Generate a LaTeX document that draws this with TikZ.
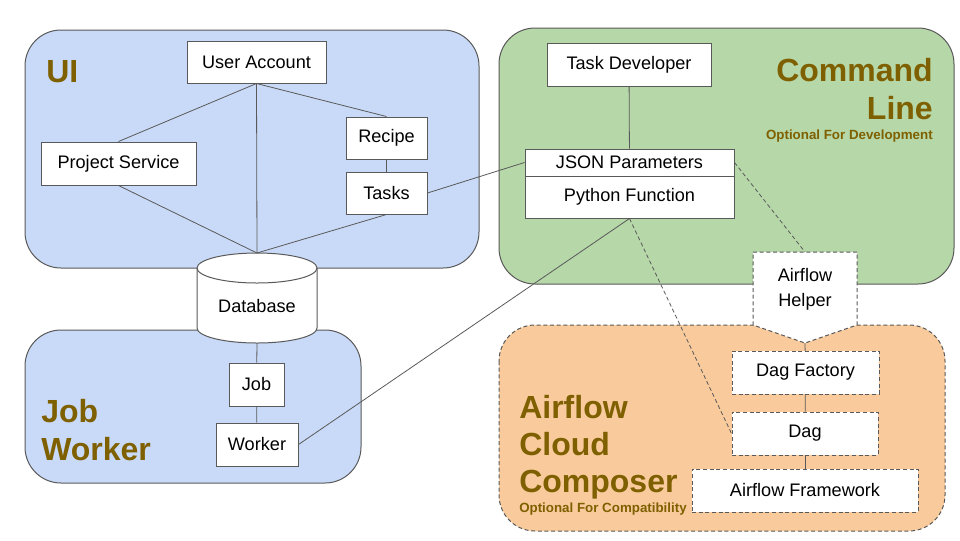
\documentclass[tikz,border=0pt]{standalone}
\usepackage{fontspec}
\setmainfont{Liberation Sans}
\definecolor{uiblue}{HTML}{C9DAF8}
\definecolor{clgreen}{HTML}{B6D7A8}
\definecolor{aforange}{HTML}{F9CB9C}
\definecolor{titlebrown}{HTML}{7F6000}
\definecolor{edgegray}{HTML}{595959}
\begin{document}
\begin{tikzpicture}[x=0.75pt,y=-0.75pt,
 box/.style={draw=edgegray, fill=white, inner sep=0pt, line width=0.75pt, font=\fontsize{13.6}{16}\selectfont},
 dbox/.style={box, dash pattern=on 3pt off 2pt},
 link/.style={draw=edgegray, line width=0.6pt},
 dlink/.style={link, dash pattern=on 3pt off 2pt},
 region/.style={draw=edgegray, line width=0.75pt, rounded corners=27pt},
 title/.style={font=\fontsize{24}{28.5}\selectfont\bfseries, text=titlebrown, inner sep=0pt},
 subtitle/.style={font=\fontsize{10}{12}\selectfont\bfseries, text=titlebrown, inner sep=0pt},
 plain/.style={inner sep=0pt, font=\fontsize{13.6}{19}\selectfont}]
\useasboundingbox (0,0) rectangle (960,540);

% regions
\draw[region, fill=uiblue] (25,30) rectangle (479,268);
\draw[region, fill=uiblue] (25,330) rectangle (361,483);
\draw[region, fill=clgreen] (499,28) rectangle (954,284);
\draw[region, fill=aforange, dash pattern=on 3pt off 2pt] (499,325) rectangle (945,531);

% titles
\node[title, anchor=base west] (tui) at (46,82) {UI};
\node[title, anchor=north east, align=right] (tcl) at (933,58) {Command\\Line};
\node[subtitle, anchor=base east] (scl) at (933,139) {Optional For Development};
\node[title, anchor=north west, align=left] (tjw) at (41,399) {Job\\Worker};
\node[title, anchor=north west, align=left, font=\fontsize{24}{27.75}\selectfont\bfseries] (taf) at (519,395) {Airflow\\Cloud\\Composer};
\node[subtitle, anchor=base west] (saf) at (519,512) {Optional For Compatibility};

% database cylinder
\draw[draw=edgegray, fill=white, line width=0.75pt] (197,268) -- (197,328)
  arc[start angle=180, end angle=360, x radius=45pt, y radius=11.25pt] -- (317,268)
  arc[start angle=0, end angle=180, x radius=45pt, y radius=11.25pt] -- cycle;
\draw[draw=edgegray, line width=0.75pt] (197,268) arc[start angle=180, end angle=360, x radius=45pt, y radius=11.25pt];
\node[plain] (db) at (257,306) {Database};
\coordinate (dbtop) at (257,253);
\coordinate (dbbot) at (257,343);

% airflow helper
\draw[draw=edgegray, fill=white, line width=0.75pt, dash pattern=on 3pt off 2pt]
  (753,252) -- (857,252) -- (857,325) -- (805,343) -- (753,325) -- cycle;
\node[plain, align=center] (helper) at (805,289) {Airflow\\Helper};
\coordinate (helpertop) at (805,252);
\coordinate (helperbot) at (805,343);

% boxes
\node[box, minimum width=104.25pt, minimum height=31.5pt] (ua) at (256.5,62) {User Account};
\node[box, minimum width=116.25pt, minimum height=32.25pt] (ps) at (118.5,163.5) {Project Service};
\node[box, minimum width=60.75pt, minimum height=31.5pt] (rec) at (386.5,138) {Recipe};
\node[box, minimum width=60.75pt, minimum height=31.5pt] (tasks) at (386.5,193) {Tasks};
\node[box, minimum width=41.25pt, minimum height=32.25pt] (job) at (256.5,384.5) {Job};
\node[box, minimum width=61.5pt, minimum height=32.25pt] (worker) at (257,444.5) {Worker};
\node[box, minimum width=123pt, minimum height=32.25pt] (td) at (629,64.5) {Task Developer};
\node[box, minimum width=156.75pt, minimum height=20.25pt] (json) at (629.5,162.5) {JSON Parameters};
\node[box, minimum width=156.75pt, minimum height=31.5pt] (py) at (629.5,197) {Python Function};
\node[dbox, minimum width=110.25pt, minimum height=32.25pt] (dagf) at (805.5,372.5) {Dag Factory};
\node[dbox, minimum width=109.5pt, minimum height=32.25pt] (dag) at (805,433.5) {Dag};
\node[dbox, minimum width=169.5pt, minimum height=32.25pt] (af) at (805,490.5) {Airflow Framework};

% connectors
\draw[link] (ua.south) -- (ps.north);
\draw[link] (ua.south) -- (dbtop);
\draw[link] (ua.south) -- (rec.north);
\draw[link] (ps.south) -- (dbtop);
\draw[link] (tasks.south) -- (dbtop);
\draw[link] (rec) -- (tasks);
\draw[link] (tasks.east) -- (json.west);
\draw[link] (td) -- (json);
\draw[link] (py.south) -- (worker.east);
\draw[dlink] (py.south) -- (dag.west);
\draw[dlink] (json.east) -- (helpertop);
\draw[link] (helperbot) -- (dagf);
\draw[link] (dagf) -- (dag);
\draw[link] (dag) -- (af);
\draw[link] (dbbot) -- (job);
\draw[link] (job) -- (worker);
\end{tikzpicture}
\end{document}
